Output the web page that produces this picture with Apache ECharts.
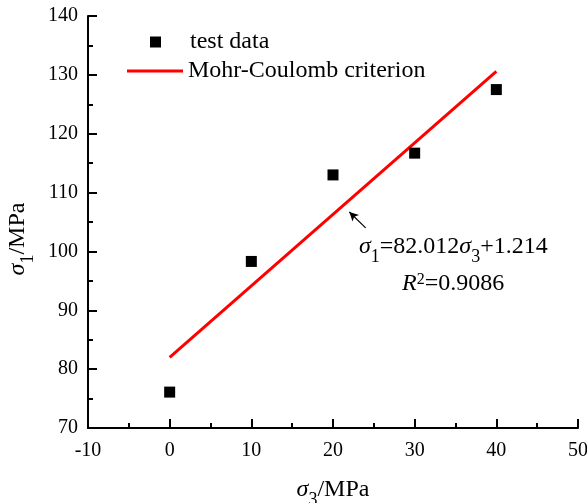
<!DOCTYPE html>
<html>
<head>
<meta charset="utf-8">
<script src="https://cdn.jsdelivr.net/npm/echarts@6/dist/echarts.min.js"></script>
<style>
  html, body { margin: 0; padding: 0; background: #fff; }
  #chart { width: 587px; height: 503px; }
</style>
</head>
<body>
<div id="chart"></div>
<script>
// Triaxial test results: confining stress σ3 vs peak stress σ1 (MPa)
const sigma3 = [0, 10, 20, 30, 40];
const sigma1 = [76.1, 98.3, 113.0, 116.7, 127.5];

// Mohr-Coulomb linear fit, σ1 = intercept + slope·σ3
const fitIntercept = 82.012;
const fitSlope = 1.214;
const fitR2 = 0.9086;
const fitRange = [0, 40];

// Axis settings
const xTicks = { min: -10, max: 50, step: 10 };
const yTicks = { min: 70, max: 140, step: 10 };

// Annotation arrow pointing at the fitted line (data coordinates)
const arrowFrom = [24.0, 104.0];
const arrowTo = [22.0, 106.7];

const serif = '"Liberation Serif", "Times New Roman", serif';

const scatterData = sigma3.map((x, i) => [x, sigma1[i]]);
const fitData = fitRange.map(x => [x, fitIntercept + fitSlope * x]);

// Rich-text styles: italic symbols, upright text, lowered subscripts, raised superscripts
const subRich = {
  s: { fontFamily: serif, fontSize: 24, fontStyle: 'italic', color: '#000', verticalAlign: 'top', lineHeight: 24 },
  t: { fontFamily: serif, fontSize: 24, color: '#000', verticalAlign: 'top', lineHeight: 24 },
  sub: { fontFamily: serif, fontSize: 18, color: '#000', verticalAlign: 'top', lineHeight: 18, padding: [13, 0, 0, 0] },
  sup: { fontFamily: serif, fontSize: 16, color: '#000', verticalAlign: 'top', lineHeight: 16 }
};

const axisCommon = {
  axisLine: { show: true, onZero: false, lineStyle: { color: '#000', width: 2 } },
  axisTick: { show: true, inside: true, length: 9, lineStyle: { color: '#000', width: 2 } },
  minorTick: { show: true, splitNumber: 2, length: 5, lineStyle: { color: '#000', width: 2 } },
  axisLabel: { color: '#000', fontFamily: serif, fontSize: 20 },
  splitLine: { show: false },
  nameLocation: 'middle'
};

const chart = echarts.init(document.getElementById('chart'), null, { renderer: 'canvas' });

chart.setOption({
  animation: false,
  backgroundColor: '#fff',
  grid: { left: 88, right: 9, top: 16, bottom: 75, containLabel: false, outerBoundsMode: 'none' },
  xAxis: Object.assign({}, axisCommon, {
    type: 'value',
    min: xTicks.min, max: xTicks.max, interval: xTicks.step,
    axisLabel: Object.assign({}, axisCommon.axisLabel, { margin: 13 }),
    name: '{s|σ}{sub|3}{t|/MPa}',
    nameGap: 50,
    nameTextStyle: { rich: subRich }
  }),
  yAxis: Object.assign({}, axisCommon, {
    type: 'value',
    min: yTicks.min, max: yTicks.max, interval: yTicks.step,
    axisLabel: Object.assign({}, axisCommon.axisLabel, { margin: 10 }),
    name: '{s|σ}{sub|1}{t|/MPa}',
    nameGap: 49,
    nameTextStyle: { rich: subRich, padding: [0, 34, 0, 0] }
  }),
  legend: [
    {
      data: [{ name: 'test data', icon: 'rect' }],
      left: 150, top: 30, orient: 'vertical', padding: 0,
      itemWidth: 11, itemHeight: 11,
      textStyle: { fontFamily: serif, fontSize: 24, color: '#000', padding: [0, 0, 0, 24] },
      selectedMode: false
    },
    {
      data: [{ name: 'Mohr-Coulomb criterion', icon: 'rect' }],
      left: 127, top: 59, orient: 'vertical', padding: 0,
      itemWidth: 56, itemHeight: 3,
      textStyle: { fontFamily: serif, fontSize: 24, color: '#000' },
      selectedMode: false
    }
  ],
  graphic: [
    {
      type: 'text', left: 359, top: 235,
      style: {
        text: '{s|σ}{sub|1}{t|=' + fitIntercept.toFixed(3) + '}{s|σ}{sub|3}{t|+' + fitSlope.toFixed(3) + '}',
        rich: subRich
      }
    },
    {
      type: 'text', left: 402, top: 272,
      style: {
        text: '{s|R}{sup|2}{t|=' + fitR2.toFixed(4) + '}',
        rich: subRich
      }
    }
  ],
  series: [
    {
      name: 'test data',
      type: 'scatter',
      data: scatterData,
      symbol: 'rect',
      symbolSize: 11,
      itemStyle: { color: '#000', opacity: 1 },
      z: 3
    },
    {
      name: 'Mohr-Coulomb criterion',
      type: 'line',
      data: fitData,
      symbol: 'none',
      lineStyle: { color: '#ff0000', width: 3 },
      itemStyle: { color: '#ff0000' },
      z: 2,
      markLine: {
        silent: true,
        symbol: ['none', 'arrow'],
        symbolSize: [7, 9],
        label: { show: false },
        lineStyle: { color: '#000', width: 1.2, type: 'solid' },
        data: [[{ coord: arrowFrom }, { coord: arrowTo }]]
      }
    }
  ]
});
</script>
</body>
</html>
